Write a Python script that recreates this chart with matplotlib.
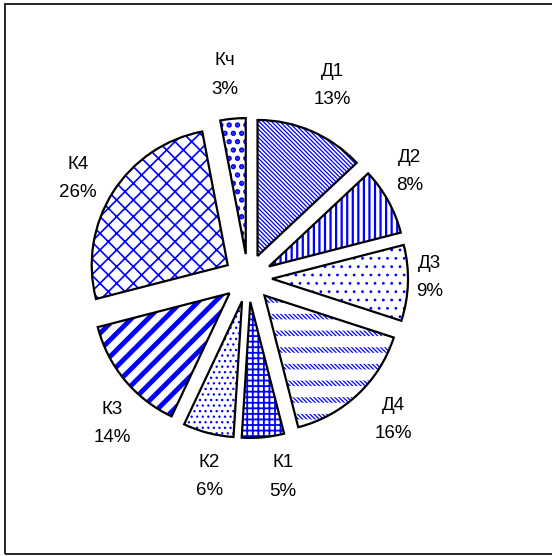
import matplotlib
matplotlib.use("Agg")
import matplotlib.pyplot as plt
import numpy as np
from matplotlib.patches import Rectangle

plt.rcParams['font.family'] = ['Liberation Sans', 'DejaVu Sans']

labels = ["Д1", "Д2", "Д3", "Д4", "К1", "К2", "К3", "К4", "Кч"]
shares = [13, 8, 9, 16, 5, 6, 14, 26, 3]

# fill styles per slice
hatches = ['\\' * 8, '|||', '..', '\\' * 8, '+++', '...', '//', 'xx', '..']
hatch_lw = [0.9, 1.6, 0.8, 0.9, 1.3, 0.9, 3.5, 1.2, 2.6]
# white bands drawn over a hatch to break it into dashes (None = nothing)
breakers = [None, None, None, '-', None, None, None, None, None]

W, H = 552, 556
cx, cy = 248, 278          # pie centre, px from left / top
R = 136                    # radius in px
EXPL = 24                  # explode offset in px

# small manual nudges of the labels (px), like dragged labels in the original
label_nudge = [(4, 7), (-6, 14), (1, 6), (10, 2), (16, 4), (12, -2), (15, -21), (-7, -4), (-4, 0)]

fig = plt.figure(figsize=(W / 100, H / 100), dpi=100)
fig.set_facecolor("white")
ax = fig.add_axes([0, 0, 1, 1])
ax.axis("off")

explode = [EXPL] * len(shares)

# hatched fill (hatch colour follows edge colour, edge itself not drawn)
wedges, _ = ax.pie(shares, radius=R, explode=explode, startangle=90, counterclock=False,
                   wedgeprops=dict(facecolor="white", edgecolor="#0000ff", linewidth=0))
for w, h, lw in zip(wedges, hatches, hatch_lw):
    w.set_hatch(h)
    try:
        w.set_hatch_linewidth(lw)
    except AttributeError:
        pass

# white breaker layer
brk, _ = ax.pie(shares, radius=R, explode=explode, startangle=90, counterclock=False,
                wedgeprops=dict(fill=False, edgecolor="white", linewidth=0))
for w, b in zip(brk, breakers):
    if b is None:
        w.set_visible(False)
        continue
    w.set_hatch(b)
    try:
        w.set_hatch_linewidth(8)
    except AttributeError:
        pass

# black outlines on top
outl, _ = ax.pie(shares, radius=R, explode=explode, startangle=90, counterclock=False,
                 wedgeprops=dict(fill=False, edgecolor="black", linewidth=1.6))

for w, lab, s, (nx, ny) in zip(outl, labels, shares, label_nudge):
    mid = np.deg2rad((w.theta1 + w.theta2) / 2)
    d = 180 + 24 * abs(np.sin(mid))
    ax.text(d * np.cos(mid) + nx, d * np.sin(mid) + ny, f"{lab}\n{s}%", ha="center", va="center",
            fontsize=13.5, linespacing=1.85)

ax.set_xlim(-cx, W - cx)
ax.set_ylim(-(H - cy), cy)

# chart border (right side runs off the canvas)
fig.patches.append(Rectangle((5.5 / W, 2.5 / H), 1.0, (H - 6) / H, transform=fig.transFigure,
                             fill=False, edgecolor="black", linewidth=1.2))

fig.savefig("out.png", dpi=100)
